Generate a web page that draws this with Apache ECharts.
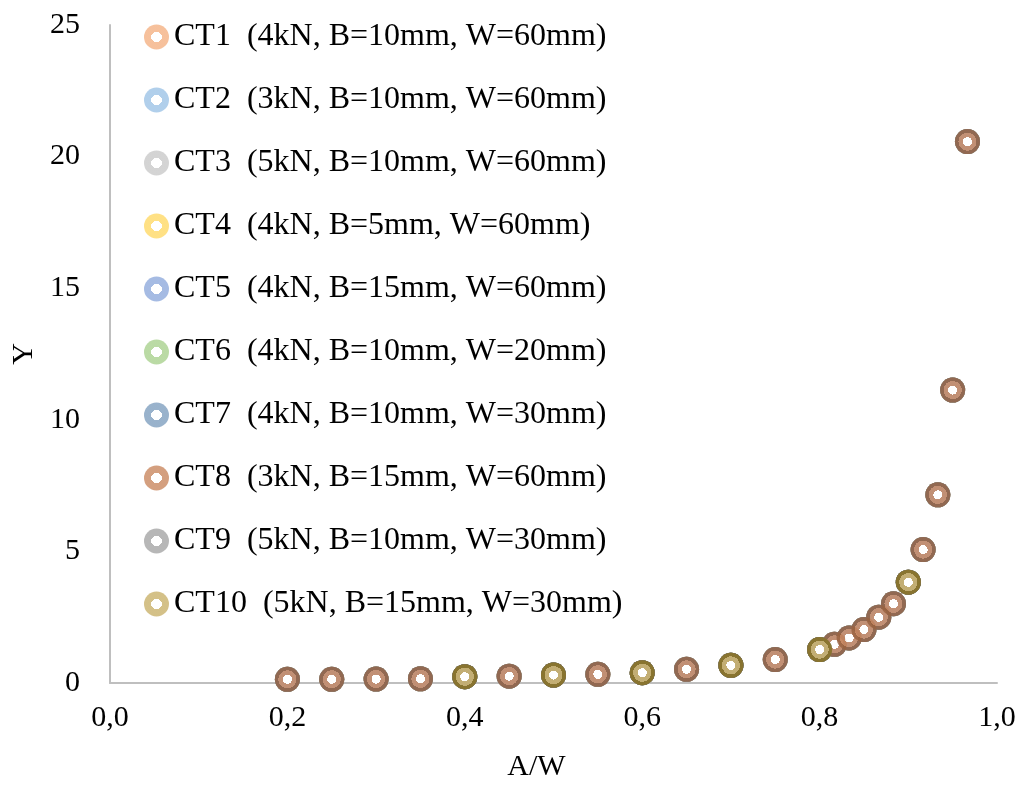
<!DOCTYPE html>
<html>
<head>
<meta charset="utf-8">
<script src="https://cdn.jsdelivr.net/npm/echarts@6/dist/echarts.min.js"></script>
<style>
  html, body { margin: 0; padding: 0; background: #fff; }
  #chart { width: 1024px; height: 787px; }
</style>
</head>
<body>
<div id="chart"></div>
<script>
// Series names (legend order)
const seriesNames = [
  'CT1  (4kN, B=10mm, W=60mm)',
  'CT2  (3kN, B=10mm, W=60mm)',
  'CT3  (5kN, B=10mm, W=60mm)',
  'CT4  (4kN, B=5mm, W=60mm)',
  'CT5  (4kN, B=15mm, W=60mm)',
  'CT6  (4kN, B=10mm, W=20mm)',
  'CT7  (4kN, B=10mm, W=30mm)',
  'CT8  (3kN, B=15mm, W=60mm)',
  'CT9  (5kN, B=10mm, W=30mm)',
  'CT10  (5kN, B=15mm, W=30mm)'
];

// A/W and Y; W=60 specimens share the dense set,
// W=30 / W=20 specimens the coarse one (they lie on the same curve).
const awDense = [0.2, 0.25, 0.3, 0.35, 0.4, 0.45, 0.5, 0.55, 0.6, 0.65, 0.7, 0.75,
  0.8, 0.8167, 0.8333, 0.85, 0.8667, 0.8833, 0.9, 0.9167, 0.9333, 0.95, 0.9667];
const yDense = [0.14, 0.14, 0.15, 0.16, 0.24, 0.26, 0.30, 0.33, 0.39, 0.52, 0.67, 0.89,
  1.27, 1.47, 1.71, 2.03, 2.50, 3.01, 3.83, 5.07, 7.15, 11.13, 20.57];
const awCoarse = [0.4, 0.5, 0.6, 0.7, 0.8, 0.9];
const yCoarse = [0.24, 0.30, 0.39, 0.67, 1.27, 3.83];

// which point set each series uses
const seriesSet = ['dense', 'dense', 'dense', 'dense', 'dense', 'coarse', 'coarse', 'dense', 'coarse', 'coarse'];

const xTicks = ['0,0', '0,2', '0,4', '0,6', '0,8', '1,0'];

// colours: legend / inner ring, and darker outer ring
const lightColors = ['#F4B183', '#9DC3E6', '#C9C9C9', '#FFD966', '#8FAADC',
  '#A9D18E', '#7F9FBF', '#C9875F', '#A5A5A5', '#C9B16A'];
const darkColors = ['#C07A48', '#6A93BA', '#969696', '#C9A630', '#5B7BB5',
  '#769F5A', '#4E6E8E', '#9A623E', '#767676', '#8C7420'];

const FONT = 'Liberation Serif';

function ring(stops) {
  return { type: 'radial', x: 0.5, y: 0.5, r: 0.5, colorStops: stops };
}

function markerFill(light, dark) {
  return ring([
    { offset: 0, color: '#ffffff' }, { offset: 0.36, color: '#ffffff' },
    { offset: 0.36, color: light }, { offset: 0.72, color: light },
    { offset: 0.72, color: dark }, { offset: 1, color: dark }
  ]);
}

function legendFill(light) {
  return ring([
    { offset: 0, color: '#ffffff' }, { offset: 0.42, color: '#ffffff' },
    { offset: 0.42, color: light }, { offset: 1, color: light }
  ]);
}

const series = seriesNames.map((name, i) => {
  const xs = seriesSet[i] === 'dense' ? awDense : awCoarse;
  const ys = seriesSet[i] === 'dense' ? yDense : yCoarse;
  return {
    name: name,
    type: 'scatter',
    symbol: 'circle',
    symbolSize: 25,
    data: xs.map((x, k) => [x, ys[k]]),
    itemStyle: { color: markerFill(lightColors[i], darkColors[i]) },
    emphasis: { disabled: true },
    z: 2 + i
  };
});

const chart = echarts.init(document.getElementById('chart'));
chart.setOption({
  animation: false,
  backgroundColor: '#fff',
  textStyle: { fontFamily: FONT, color: '#000' },
  grid: { left: 110, right: 27, top: 25, bottom: 100, containLabel: false },
  legend: {
    orient: 'vertical',
    left: 139,
    top: 16,
    itemWidth: 25,
    itemHeight: 25,
    itemGap: 31,
    textStyle: { fontFamily: FONT, fontSize: 32, lineHeight: 32, color: '#000' },
    data: seriesNames.map((name, i) => ({
      name: name,
      icon: 'circle',
      itemStyle: { color: legendFill(lightColors[i]), borderWidth: 0 }
    }))
  },
  xAxis: {
    type: 'value',
    min: 0,
    max: 1,
    interval: 0.2,
    name: 'A/W',
    nameLocation: 'middle',
    nameGap: 69,
    nameTextStyle: { fontFamily: FONT, fontSize: 30, color: '#000', padding: [0, 34, 0, 0] },
    axisLine: { show: true, lineStyle: { color: '#BFBFBF', width: 2 } },
    axisTick: { show: false },
    splitLine: { show: false },
    axisLabel: {
      fontFamily: FONT, fontSize: 30, color: '#000', margin: 20,
      formatter: v => xTicks[Math.round(v / 0.2)]
    }
  },
  yAxis: {
    type: 'value',
    min: 0,
    max: 25,
    interval: 5,
    name: 'Y',
    nameLocation: 'middle',
    nameGap: 69,
    nameTextStyle: { fontFamily: FONT, fontSize: 30, color: '#000' },
    axisLine: { show: true, lineStyle: { color: '#BFBFBF', width: 2 } },
    axisTick: { show: false },
    splitLine: { show: false },
    axisLabel: { fontFamily: FONT, fontSize: 30, color: '#000', margin: 30 }
  },
  series: series
});
</script>
</body>
</html>
